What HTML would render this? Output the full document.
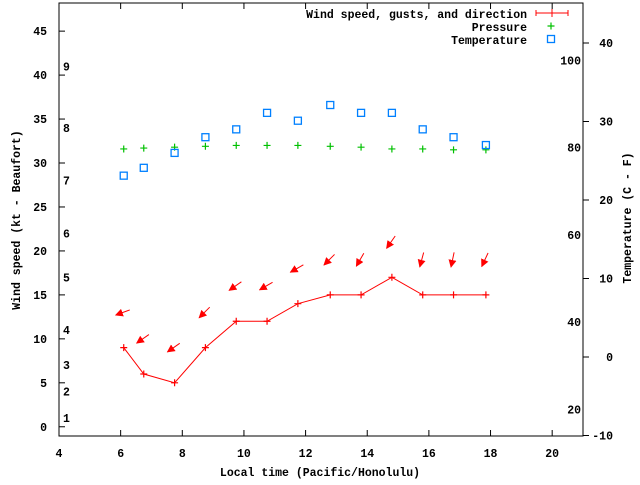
<!DOCTYPE html>
<html><head><meta charset="utf-8"><style>
body{margin:0;background:#fff}
svg text{font-family:"Liberation Mono",monospace;font-size:11.5px;font-weight:bold;fill:#000}
</style></head><body>
<svg id="c" width="640" height="480" xmlns="http://www.w3.org/2000/svg">
<defs><marker id="ah" viewBox="0 0 10 10" refX="9" refY="5" markerWidth="8" markerHeight="8" orient="auto"><path d="M0,0 L10,5 L0,10 z" fill="#f00"/></marker></defs>
</svg>
<script>
const times=[6.1,6.75,7.75,8.75,9.75,10.75,11.75,12.8,13.8,14.8,15.8,16.8,17.85];
const wind=[9,6,5,9,12,12,14,15,15,17,15,15,15];
const gust=[13,10,9,13,16,16,18,19,19,21,19,19,19];
const dirDeg=[70,55,55,45,55,60,60,45,30,35,15,12,25];
const tempC=[23.1,24.1,26,28,29,31.1,30.1,32.1,31.1,31.1,29,28,27];
const pressure=[31.6,31.7,31.8,31.9,32,32,32,31.9,31.8,31.6,31.6,31.5,31.5];
const xTicks=[4,6,8,10,12,14,16,18,20];
const yTicks=[0,5,10,15,20,25,30,35,40,45];
const cTicks=[-10,0,10,20,30,40];
const fTicks=[20,40,60,80,100];
const bft=[1,2,3,4,5,6,7,8,9];
const bftKt=[1,4,7,11,17,22,28,34,41];

const L=59,R=583,T=3,B=436;
const X=v=>L+(v-4)/(21-4)*(R-L);
const Y=v=>B-(v+1.05)/(48.2+1.05)*(B-T);
const YC=v=>357-v*7.85;
const svg=document.getElementById('c');
const NS='http://www.w3.org/2000/svg';
function el(tag,attrs,parent){const e=document.createElementNS(NS,tag);for(const k in attrs)e.setAttribute(k,attrs[k]);(parent||svg).appendChild(e);return e;}
function txt(x,y,s,anchor,extra){const t=el('text',Object.assign({x:x,y:y,'text-anchor':anchor||'start'},extra||{}));t.textContent=s;return t;}

const frame=el('rect',{x:L,y:T,width:R-L,height:B-T,fill:'none',stroke:'#000','stroke-width':1});



xTicks.forEach(v=>{const x=X(v);
 const a=el('line',{x1:x,y1:B,x2:x,y2:B-6,stroke:'#000'});
 const b=el('line',{x1:x,y1:T,x2:x,y2:T+6,stroke:'#000'});
 const t=txt(x,457,String(v),'middle');});
yTicks.forEach(v=>{const y=Y(v);
 const a=el('line',{x1:L,y1:y,x2:L+6,y2:y,stroke:'#000'});
 const t=txt(47,y+4,String(v),'end');});
cTicks.forEach(v=>{const y=YC(v);
 const a=el('line',{x1:R,y1:y,x2:R+6,y2:y,stroke:'#000'});
 const t=txt(613,y+4,String(v),'end');});
fTicks.forEach(v=>{const y=YC((v-32)*5/9);
 const t=txt(581,y+4,String(v),'end');});
bft.forEach((v,i)=>{const y=Y(bftKt[i]);
 const t=txt(63,y+4,String(v),'start');});

let tt=txt(320,476,'Local time (Pacific/Honolulu)','middle');
tt=txt(0,0,'Wind speed (kt - Beaufort)','middle',{transform:'translate(20,220) rotate(-90)'});
tt=txt(0,0,'Temperature (C - F)','middle',{transform:'translate(631,218) rotate(-90)'});

function plus(x,y,col,name){const g=el('path',{d:`M${x-3.5},${y}h7M${x},${y-3.5}v7`,stroke:col,'stroke-width':1.2});}
function sq(x,y,name){const r=el('rect',{x:x-3.5,y:y-3.5,width:7,height:7,fill:'none',stroke:'#0080ff','stroke-width':1.3});}

const pl=el('polyline',{points:times.map((t,i)=>X(t)+','+Y(wind[i])).join(' '),fill:'none',stroke:'#f00','stroke-width':1});

times.forEach((t,i)=>{plus(X(t),Y(wind[i]),'#f00','wind-point');
 const cx=X(t)-1,cy=Y(gust[i]),a=dirDeg[i]*Math.PI/180,len=15;
 const dx=Math.sin(a)*len/2,dy=-Math.cos(a)*len/2;
 const ar=el('line',{x1:cx+dx,y1:cy+dy,x2:cx-dx,y2:cy-dy,stroke:'#f00','stroke-width':1,'marker-end':'url(#ah)'});
 
 plus(X(t),Y(pressure[i]),'#00c000','pressure-point');
 sq(X(t),YC(tempC[i]),'temperature-point');});

let lt=txt(527,18,'Wind speed, gusts, and direction','end');
let lg=el('path',{d:'M536,13h32M536,10v6M568,10v6M552,9v8',stroke:'#f00','stroke-width':1});
lt=txt(527,31,'Pressure','end');
plus(551,26,'#00c000','legend-pressure-symbol');
lt=txt(527,44,'Temperature','end');
sq(551,39,'legend-temperature-symbol');
</script>
</body></html>
